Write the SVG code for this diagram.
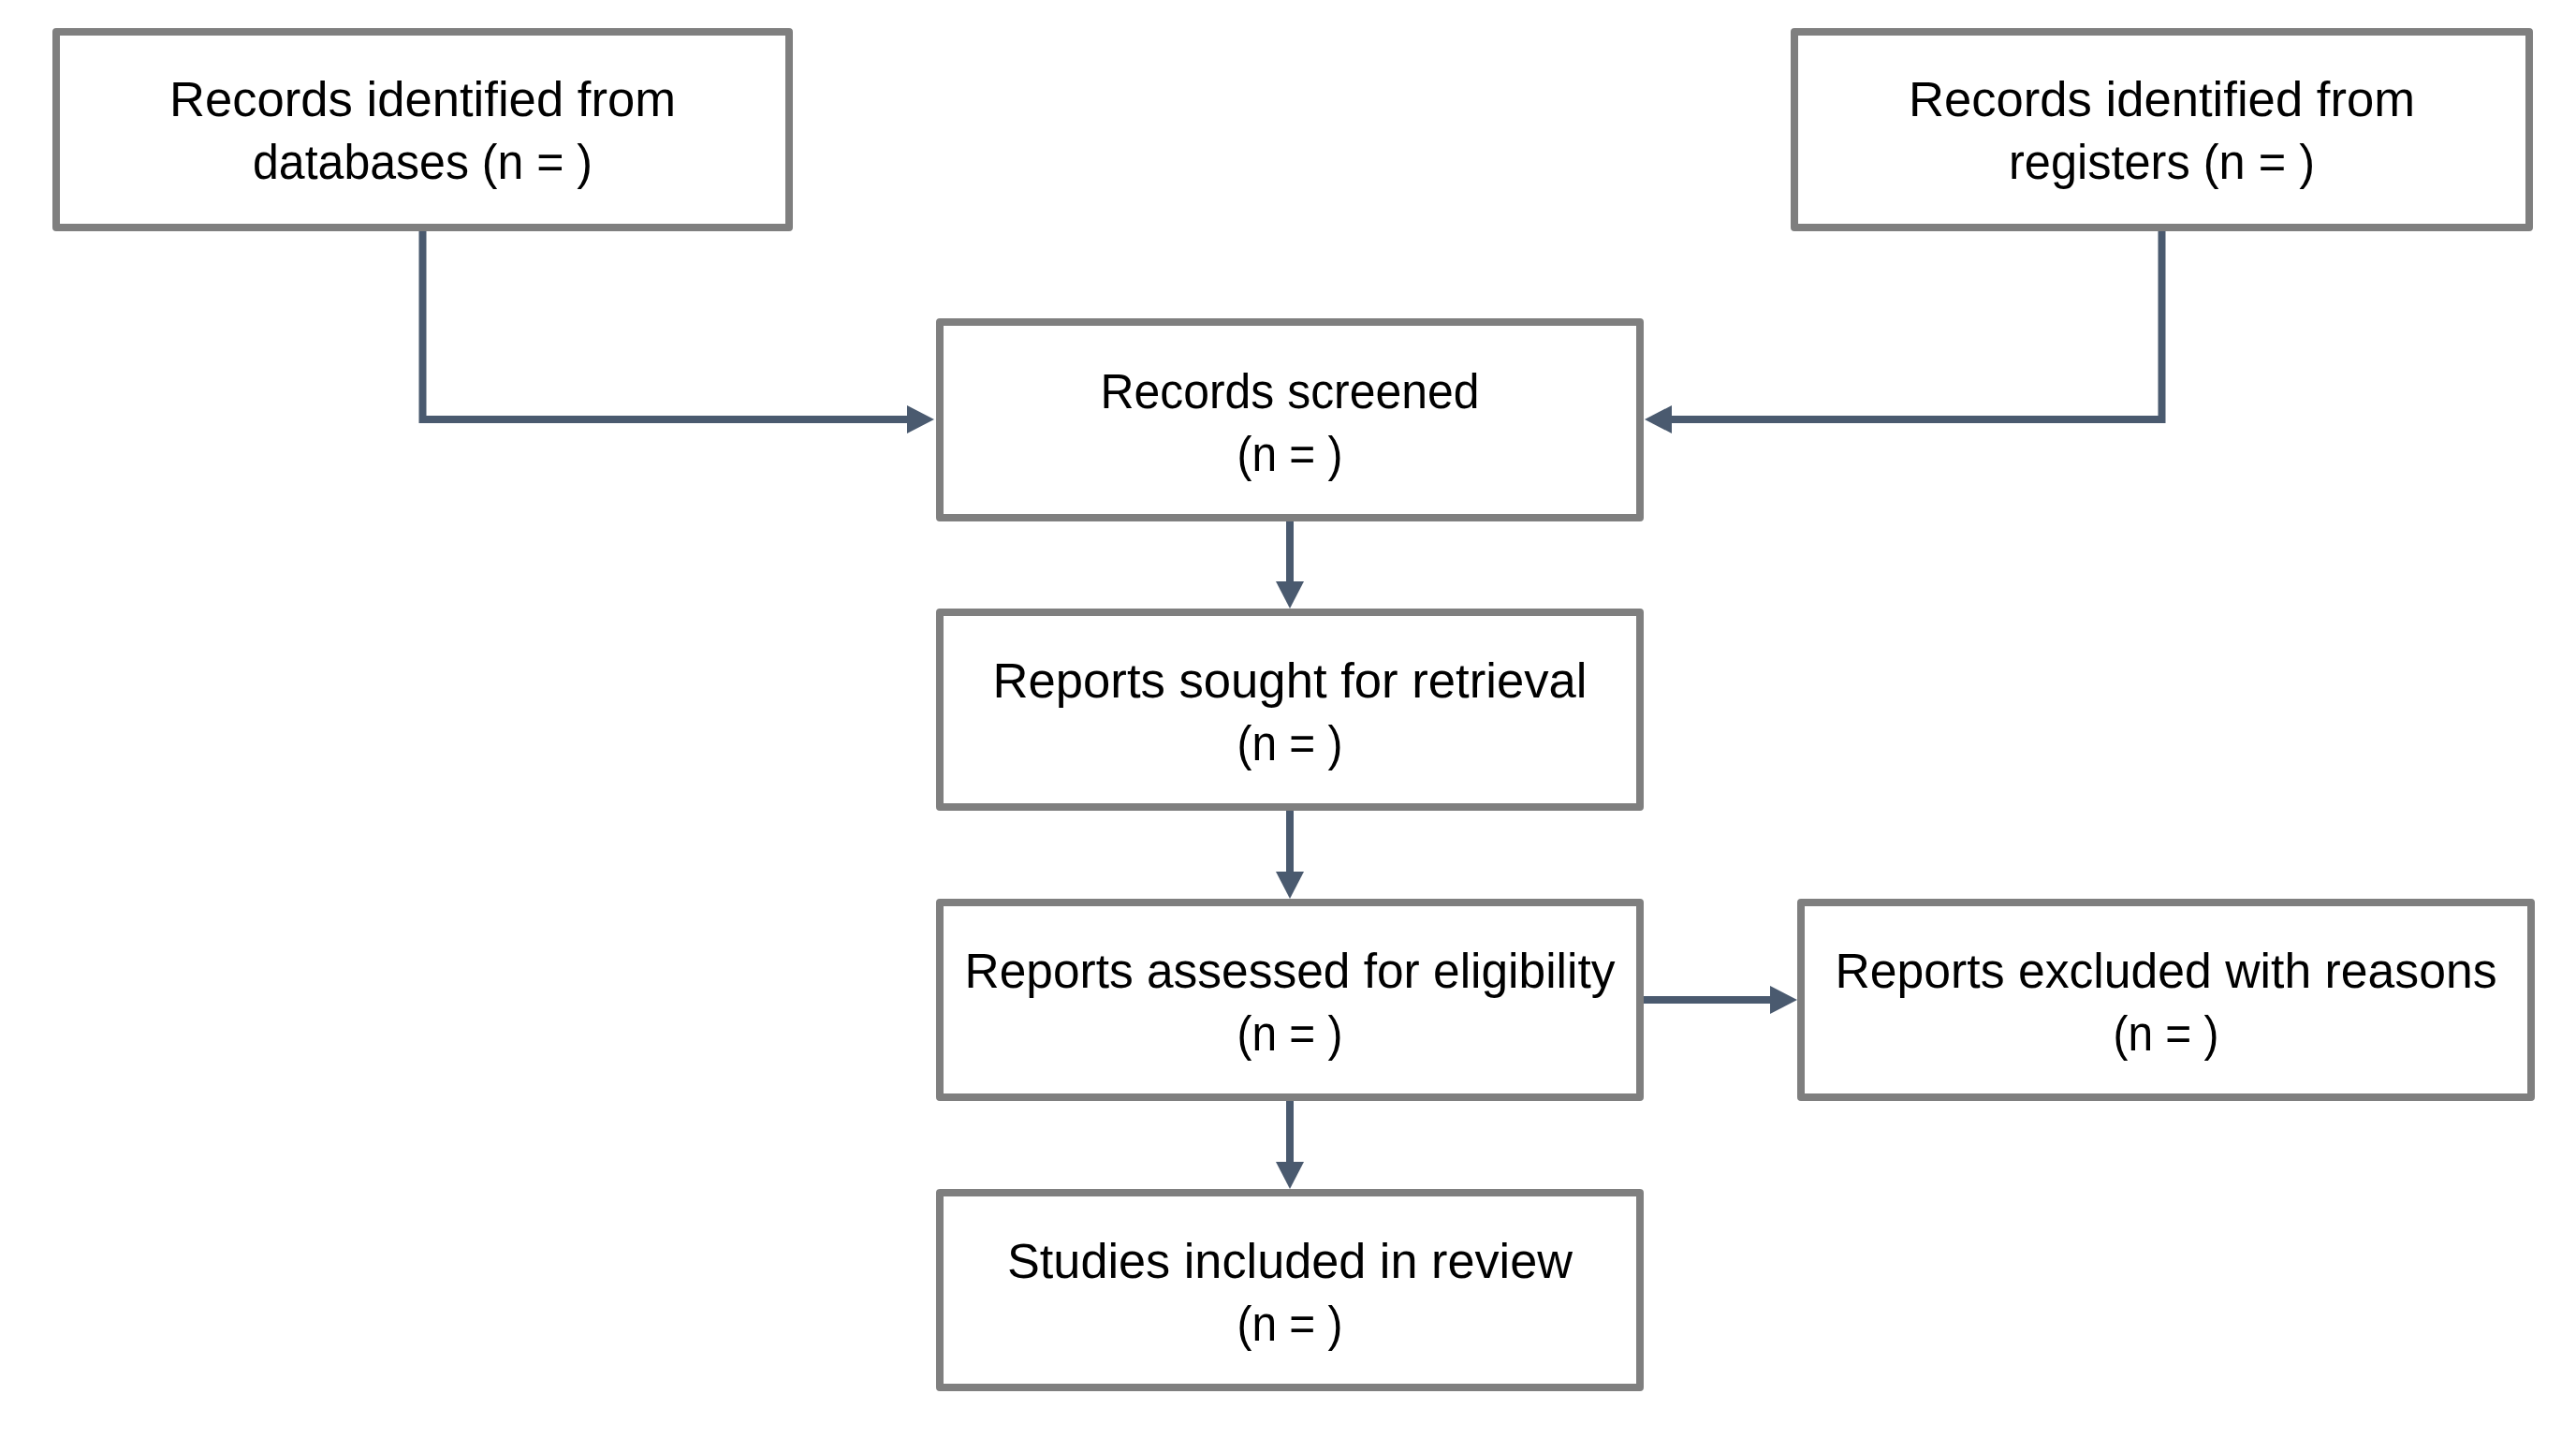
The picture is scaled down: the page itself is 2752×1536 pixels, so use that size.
<svg xmlns="http://www.w3.org/2000/svg" width="2752" height="1536" viewBox="0 0 2752 1536">
  <style>
    .box { fill: #ffffff; stroke: #7f7f7f; stroke-width: 8; stroke-linejoin: round; }
    .lbl { font-family: "Liberation Sans", Arial, sans-serif; font-size: 51px; fill: #000000; text-anchor: middle; }
    .conn { fill: none; stroke: #4a5a6f; stroke-width: 8; marker-end: url(#arrow); }
  </style>
  <defs>
    <marker id="arrow" markerUnits="userSpaceOnUse" markerWidth="30" markerHeight="30" refX="0" refY="15" orient="auto">
      <path d="M0,0 L29,15 L0,30 Z" fill="#4a5a6f"/>
    </marker>
  </defs>
  <rect x="0" y="0" width="2752" height="1536" fill="#ffffff"/>

  <g id="connectors">
    <path class="conn" d="M451.5,247 V448 H969"/>
    <path class="conn" d="M2309.5,247 V448 H1786"/>
    <path class="conn" d="M1378,557 V621"/>
    <path class="conn" d="M1378,866 V931"/>
    <path class="conn" d="M1756,1068 H1891"/>
    <path class="conn" d="M1378,1176 V1241"/>
  </g>

  <g id="records-databases">
    <rect class="box" x="60" y="34" width="783" height="209"/>
    <text class="lbl" x="451.5" y="124" textLength="541" lengthAdjust="spacingAndGlyphs">Records identified from</text>
    <text class="lbl" x="451.5" y="191" textLength="363" lengthAdjust="spacingAndGlyphs">databases (n = )</text>
  </g>

  <g id="records-registers">
    <rect class="box" x="1917" y="34" width="785" height="209"/>
    <text class="lbl" x="2309.5" y="124" textLength="541" lengthAdjust="spacingAndGlyphs">Records identified from</text>
    <text class="lbl" x="2309.5" y="191" textLength="327" lengthAdjust="spacingAndGlyphs">registers (n = )</text>
  </g>

  <g id="records-screened">
    <rect class="box" x="1004" y="344" width="748" height="209"/>
    <text class="lbl" x="1378" y="436" textLength="405" lengthAdjust="spacingAndGlyphs">Records screened</text>
    <text class="lbl" x="1378" y="503" textLength="113" lengthAdjust="spacingAndGlyphs">(n = )</text>
  </g>

  <g id="reports-sought">
    <rect class="box" x="1004" y="654" width="748" height="208"/>
    <text class="lbl" x="1378" y="745" textLength="635" lengthAdjust="spacingAndGlyphs">Reports sought for retrieval</text>
    <text class="lbl" x="1378" y="812" textLength="113" lengthAdjust="spacingAndGlyphs">(n = )</text>
  </g>

  <g id="reports-assessed">
    <rect class="box" x="1004" y="964" width="748" height="208"/>
    <text class="lbl" x="1378" y="1055" textLength="695" lengthAdjust="spacingAndGlyphs">Reports assessed for eligibility</text>
    <text class="lbl" x="1378" y="1122" textLength="113" lengthAdjust="spacingAndGlyphs">(n = )</text>
  </g>

  <g id="reports-excluded">
    <rect class="box" x="1924" y="964" width="780" height="208"/>
    <text class="lbl" x="2314" y="1055" textLength="707" lengthAdjust="spacingAndGlyphs">Reports excluded with reasons</text>
    <text class="lbl" x="2314" y="1122" textLength="113" lengthAdjust="spacingAndGlyphs">(n = )</text>
  </g>

  <g id="studies-included">
    <rect class="box" x="1004" y="1274" width="748" height="208"/>
    <text class="lbl" x="1378" y="1365" textLength="604" lengthAdjust="spacingAndGlyphs">Studies included in review</text>
    <text class="lbl" x="1378" y="1432" textLength="113" lengthAdjust="spacingAndGlyphs">(n = )</text>
  </g>
</svg>
